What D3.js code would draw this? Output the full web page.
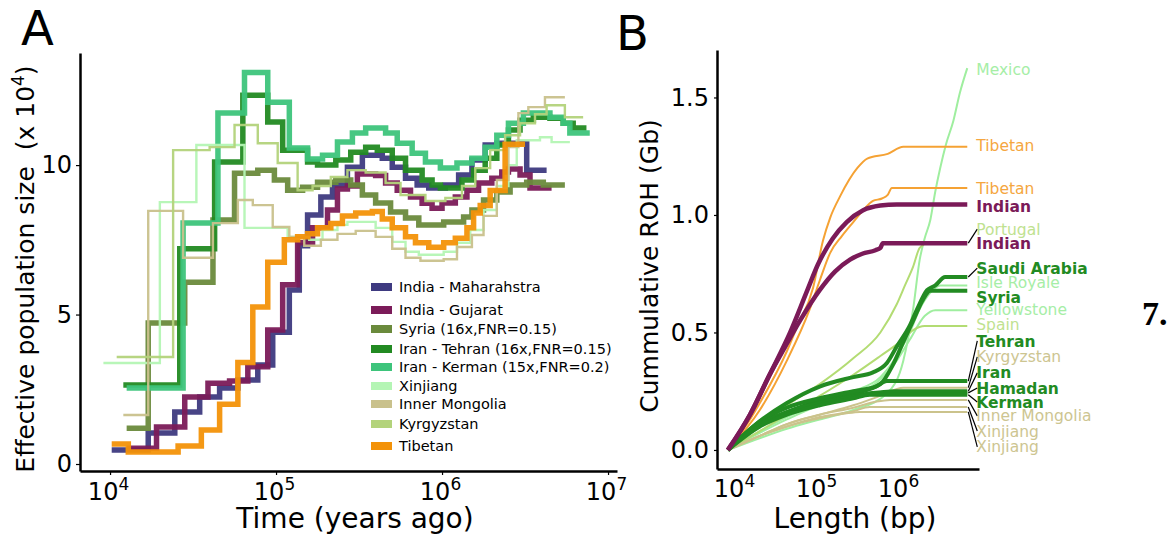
<!DOCTYPE html>
<html>
<head>
<meta charset="utf-8">
<script src="https://cdn.jsdelivr.net/npm/d3@7"></script>
<style>
body { margin: 0; background: #fff; }
svg { font-family: "DejaVu Sans", sans-serif; }
</style>
</head>
<body>
<svg width="1172" height="535"></svg>
<script>
// ---- Panel A: PSMC steps. time = log10(years ago), Ne in units of 10^4 ----
const mahaT = [4.01,4.23,4.39,4.54,4.66,4.77,4.89,4.98,5.08,5.14,5.19,5.27,5.34,5.43,5.52,5.64,5.70,5.78,5.85,5.92,6.02,6.10,6.18,6.26,6.33,6.51,6.63];
const mahaNe = [0.47,1.04,1.74,2.24,2.54,2.81,3.31,4.41,5.82,7.3,8.33,8.93,9.33,9.93,10.33,10.23,9.93,9.56,9.33,9.23,9.33,9.67,10.17,10.67,10.73,9.83];

const gujT = [4.10,4.28,4.45,4.59,4.72,4.83,4.95,5.04,5.13,5.22,5.31,5.37,5.43,5.49,5.60,5.66,5.73,5.81,5.88,5.94,6.00,6.08,6.15,6.22,6.30,6.36,6.40,6.47,6.53,6.66];
const gujNe = [0.53,1.24,2.24,2.7,2.78,3.25,4.48,6.0,7.4,7.9,8.5,9.2,9.3,9.7,9.65,9.4,9.16,8.93,8.72,8.56,8.73,8.93,9.16,9.4,9.56,9.77,9.87,9.67,9.23];

const syriaT = [4.10,4.23,4.45,4.62,4.75,4.89,4.99,5.07,5.16,5.25,5.36,5.45,5.52,5.60,5.69,5.78,5.86,6.01,6.13,6.18,6.25,6.33,6.41,6.51,6.61,6.74];
const syriaNe = [1.2,4.72,6.08,8.16,9.73,9.83,9.5,9.16,9.26,9.43,9.5,9.33,9.0,8.73,8.43,8.23,8.0,8.1,8.26,8.5,8.83,9.1,9.33,9.43,9.33];

const tehranT = [4.08,4.42,4.63,4.80,4.95,5.04,5.19,5.25,5.36,5.45,5.54,5.61,5.70,5.78,5.88,5.94,5.99,6.12,6.19,6.26,6.33,6.40,6.47,6.55,6.65,6.73,6.79,6.87];
const tehranNe = [2.64,7.2,10.1,12.34,11.44,10.5,10.1,10.0,10.17,10.43,10.6,10.5,10.23,9.83,9.5,9.33,9.23,9.5,9.83,10.23,10.67,11.17,11.5,11.6,11.57,11.4,11.24];

const kermanT = [4.10,4.44,4.65,4.81,4.95,5.08,5.19,5.28,5.37,5.46,5.54,5.66,5.73,5.82,5.90,5.99,6.09,6.18,6.26,6.33,6.40,6.49,6.65,6.73,6.77,6.89];
const kermanNe = [2.54,8.06,11.74,13.1,12.1,10.57,10.2,10.33,10.77,11.07,11.24,11.07,10.73,10.4,10.1,9.9,10.07,10.23,10.6,11.0,11.4,11.74,11.6,11.4,11.07];

const xinjT = [3.96,4.30,4.52,4.81,5.07,5.20,5.28,5.37,5.43,5.60,5.70,5.78,5.86,6.01,6.09,6.17,6.25,6.33,6.40,6.45,6.59,6.66,6.77];
const xinjNe = [3.38,8.76,10.67,7.9,7.6,7.5,7.83,8.0,8.1,7.9,7.43,7.1,7.0,7.1,7.4,7.83,8.5,9.3,10.0,10.83,10.93,10.77];

const mongT = [4.08,4.23,4.44,4.62,4.77,4.86,4.98,5.08,5.17,5.27,5.37,5.48,5.60,5.70,5.78,5.87,6.01,6.09,6.18,6.25,6.33,6.40,6.46,6.52,6.62,6.74];
const mongNe = [1.64,8.47,6.9,8.06,8.83,8.66,7.93,7.6,7.3,7.5,7.7,7.8,7.6,7.2,6.9,6.8,6.85,7.26,7.66,8.3,9.5,10.6,11.74,11.94,12.27];

const kyrgT = [4.04,4.38,4.60,4.75,4.89,5.01,5.13,5.22,5.33,5.43,5.54,5.66,5.75,5.90,6.02,6.12,6.20,6.29,6.38,6.47,6.56,6.63,6.74,6.85];
const kyrgNe = [3.58,10.5,10.6,11.34,10.73,10.07,9.16,9.3,9.6,9.83,9.75,9.4,9.0,8.8,8.9,9.3,9.9,10.5,11.0,11.4,11.7,12.0,11.6];

const tibT = [4.01,4.11,4.41,4.55,4.66,4.77,4.86,4.95,5.05,5.13,5.19,5.25,5.33,5.40,5.48,5.58,5.64,5.70,5.78,5.84,5.92,6.01,6.08,6.15,6.19,6.23,6.29,6.38,6.50];
const tibNe = [0.67,0.4,0.6,1.14,2.0,3.4,5.25,6.75,7.5,7.6,7.7,7.9,8.05,8.3,8.4,8.45,8.2,7.9,7.6,7.4,7.25,7.4,7.55,7.9,8.4,8.65,9.15,10.7];

const psmcNames = ["India - Maharahstra", "India - Gujarat", "Syria (16x,FNR=0.15)", "Iran - Tehran (16x,FNR=0.15)",
  "Iran - Kerman (15x,FNR=0.2)", "Xinjiang", "Inner Mongolia", "Kyrgyzstan", "Tibetan"];
const psmcTimes = [mahaT, gujT, syriaT, tehranT, kermanT, xinjT, mongT, kyrgT, tibT];
const psmcNe = [mahaNe, gujNe, syriaNe, tehranNe, kermanNe, xinjNe, mongNe, kyrgNe, tibNe];
const yTicksA = [0, 5, 10];
const xTicksA = [4, 5, 6, 7];

// ---- Panel B: cumulative ROH. [log10(length bp), Gb] ----
const mexico = [[3.90,0],[4.21,0.04],[4.62,0.09],[5.02,0.13],[5.43,0.17],[5.84,0.24],[6.04,0.38],[6.16,0.60],[6.24,0.81],[6.30,0.90],[6.37,0.98],[6.43,1.10],[6.49,1.20],[6.56,1.30],[6.65,1.40],[6.73,1.52],[6.82,1.625]];
const tibetan1 = [[3.90,0],[4.17,0.13],[4.29,0.20],[4.62,0.42],[4.74,0.52],[4.94,0.69],[5.06,0.89],[5.15,0.99],[5.27,1.08],[5.48,1.20],[5.60,1.24],[5.85,1.26],[6.04,1.29],[6.82,1.29]];
const tibetan2 = [[3.90,0],[4.29,0.17],[4.62,0.38],[4.90,0.60],[5.02,0.72],[5.15,0.84],[5.29,0.91],[5.43,0.97],[5.55,1.02],[5.67,1.06],[5.78,1.07],[5.85,1.085],[5.90,1.115],[6.82,1.115]];
const indian1 = [[3.90,0],[4.17,0.15],[4.41,0.32],[4.66,0.50],[4.87,0.68],[5.00,0.79],[5.18,0.90],[5.35,0.97],[5.55,1.02],[5.76,1.04],[5.96,1.045],[6.82,1.045]];
const portugal = [[3.90,0],[4.29,0.10],[4.62,0.19],[5.02,0.28],[5.43,0.39],[5.76,0.50],[5.96,0.62],[6.06,0.70],[6.16,0.78],[6.24,0.86],[6.34,0.88],[6.82,0.88]];
const indian2 = [[3.90,0],[4.17,0.15],[4.41,0.32],[4.60,0.44],[4.78,0.55],[5.02,0.68],[5.21,0.76],[5.39,0.81],[5.54,0.835],[5.70,0.85],[5.76,0.86],[5.79,0.88],[6.82,0.88]];
const saudi = [[3.90,0],[4.21,0.10],[4.62,0.20],[5.02,0.27],[5.43,0.31],[5.67,0.33],[5.84,0.37],[5.96,0.44],[6.12,0.53],[6.21,0.60],[6.33,0.68],[6.43,0.70],[6.55,0.736],[6.82,0.736]];
const isleRoyale = [[3.90,0],[4.62,0.14],[5.02,0.20],[5.43,0.25],[5.76,0.31],[5.96,0.40],[6.12,0.50],[6.24,0.60],[6.37,0.67],[6.49,0.70],[6.82,0.70]];
const syriaRoh = [[3.90,0],[4.21,0.09],[4.62,0.16],[5.02,0.21],[5.43,0.24],[5.76,0.28],[5.91,0.36],[6.04,0.46],[6.16,0.55],[6.28,0.64],[6.37,0.677],[6.82,0.677]];
const yellowstone = [[3.90,0],[4.62,0.13],[5.02,0.19],[5.43,0.23],[5.76,0.30],[5.96,0.38],[6.12,0.47],[6.30,0.57],[6.43,0.595],[6.82,0.595]];
const spain = [[3.90,0],[4.29,0.08],[4.62,0.15],[5.02,0.23],[5.43,0.32],[5.76,0.40],[6.00,0.46],[6.16,0.51],[6.30,0.527],[6.82,0.527]];
const tehranRoh = [[3.90,0],[4.29,0.12],[4.62,0.18],[5.02,0.22],[5.43,0.25],[5.70,0.27],[5.84,0.293],[6.82,0.293]];
const kyrgRoh = [[3.90,0],[4.29,0.06],[4.62,0.11],[5.02,0.15],[5.43,0.19],[5.76,0.23],[6.04,0.265],[6.82,0.265]];
const iranRoh = [[3.90,0],[4.29,0.11],[4.62,0.16],[5.02,0.20],[5.43,0.23],[5.76,0.245],[5.94,0.25],[6.82,0.25]];
const hamadan = [[3.90,0],[4.29,0.11],[4.62,0.16],[5.02,0.20],[5.43,0.225],[5.70,0.243],[6.82,0.243]];
const kermanRoh = [[3.90,0],[4.29,0.10],[4.62,0.15],[5.02,0.19],[5.43,0.22],[5.63,0.235],[6.82,0.235]];
const mongRoh = [[3.90,0],[4.29,0.06],[4.62,0.11],[5.02,0.15],[5.43,0.18],[5.70,0.205],[5.88,0.213],[6.82,0.213]];
const xinj1Roh = [[3.90,0],[4.29,0.06],[4.62,0.10],[5.02,0.14],[5.43,0.165],[5.63,0.183],[6.82,0.183]];
const xinj2Roh = [[3.90,0],[4.29,0.06],[4.62,0.10],[5.02,0.135],[5.33,0.155],[5.51,0.162],[6.82,0.162]];

const rohNames = ["Mexico","Tibetan","Tibetan","Indian","Portugal","Indian","Saudi Arabia","Isle Royale","Syria",
  "Yellowstone","Spain","Tehran","Kyrgyzstan","Iran","Hamadan","Kerman","Inner Mongolia","Xinjiang","Xinjiang"];
const rohCurves = [mexico, tibetan1, tibetan2, indian1, portugal, indian2, saudi, isleRoyale, syriaRoh,
  yellowstone, spain, tehranRoh, kyrgRoh, iranRoh, hamadan, kermanRoh, mongRoh, xinj1Roh, xinj2Roh];
const rohGroup = ["pale","tibetan","tibetan","indian","yg","indian","green","pale","green",
  "pale","yg","green","tan","green","green","green","tan","tan","tan"];
const yTicksB = [0, 0.5, 1.0, 1.5];
const xTicksB = [4, 5, 6];

// ---- layout / style ----
const psmcColor = ["#3e3a80","#7b1b59","#6a8a3c","#228a22","#3dc47b","#b4f5b4","#c9c18c","#b3d37b","#f39208"];
const psmcWidth = [5.5,5.5,5.5,5.5,5.5,2.4,2.4,2.4,5.5];
const legendRowY = [0,23,42,62,80,99,117,137,159];
const groupStyle = {
  pale:    {line: "#9fee9f", text: "#a6eea6", w: 2,   bold: false},
  tibetan: {line: "#f5a234", text: "#f5a640", w: 2,   bold: false},
  indian:  {line: "#7b1a58", text: "#7b1a58", w: 4.5, bold: true},
  yg:      {line: "#b3dc73", text: "#bfe290", w: 2,   bold: false},
  green:   {line: "#228b22", text: "#228b22", w: 4,   bold: true},
  tan:     {line: "#cbc38c", text: "#cdc591", w: 2,   bold: false}
};
// label centres (Gb) after de-overlapping, and whether a leader line is drawn
const labelAt = [1.621,1.294,1.115,1.038,0.940,0.881,0.774,0.715,0.651,0.600,0.536,0.464,0.396,0.328,0.264,0.204,0.145,0.081,0.013];
const leader = [0,0,0,0,1,0,1,0,0,0,0,1,1,1,1,1,1,1,1];

const svg = d3.select("svg");
const pow10 = v => Math.pow(10, v);

function supLabel(sel, exp, size, supSize, dy) {
  sel.text(null);
  sel.append("tspan").attr("font-size", size).text("10");
  sel.append("tspan").attr("font-size", supSize).attr("dy", dy).text(exp);
}

// ================= Panel A =================
const xA = d3.scaleLog().domain([pow10(3.819), pow10(7.054)]).range([80, 617]);
const yA = d3.scaleLinear().domain([-0.234, 13.75]).range([471, 53]);

const gA = svg.append("g");

const stepLine = d3.line()
  .x(d => xA(pow10(d.t)))
  .y(d => yA(d.ne))
  .curve(d3.curveStepAfter);

psmcNames.forEach((name, i) => {
  const T = psmcTimes[i], N = psmcNe[i];
  const pts = T.map((t, j) => ({t: t, ne: N[Math.min(j, N.length - 1)]}));
  gA.append("path")
    .attr("d", stepLine(pts))
    .attr("fill", "none")
    .attr("stroke", psmcColor[i])
    .attr("stroke-width", psmcWidth[i])
    .attr("stroke-opacity", 0.95);
});

const axAy = gA.append("g").attr("transform", "translate(80,0)")
  .call(d3.axisLeft(yA).tickValues(yTicksA).tickSize(4).tickPadding(4).tickSizeOuter(0));
const axAx = gA.append("g").attr("transform", "translate(0,471)")
  .call(d3.axisBottom(xA).tickValues(xTicksA.map(pow10)).tickSize(4).tickPadding(8).tickSizeOuter(0));

[axAy, axAx].forEach(a => {
  a.select(".domain").attr("stroke-width", 2.5);
  a.selectAll(".tick line").attr("stroke-width", 1.2);
  a.attr("font-family", "DejaVu Sans").attr("font-size", 24);
});
axAx.selectAll(".tick text").each(function (d, i) {
  d3.select(this).attr("dy", "0.71em").attr("dx", -2);
  supLabel(d3.select(this), xTicksA[i], 24, 17, -10);
});

gA.append("text")
  .attr("transform", "translate(34,269) rotate(-90)")
  .attr("text-anchor", "middle")
  .attr("font-size", 25)
  .style("white-space", "pre")
  .call(t => {
    t.append("tspan").text("Effective population size  (x 10");
    t.append("tspan").attr("font-size", 17).attr("dy", -10).text("4");
    t.append("tspan").attr("dy", 10).text(")");
  });

gA.append("text")
  .attr("x", 355).attr("y", 528)
  .attr("text-anchor", "middle")
  .attr("font-size", 28)
  .text("Time (years ago)");

gA.append("text").attr("x", 21).attr("y", 45).attr("font-size", 48).text("A");

// legend
const leg = gA.append("g").attr("transform", "translate(371,287)");
psmcNames.forEach((name, i) => {
  const row = leg.append("g").attr("transform", `translate(0,${legendRowY[i]})`);
  row.append("rect").attr("x", 0).attr("y", -4).attr("width", 21).attr("height", 8)
    .attr("fill", psmcColor[i]);
  row.append("text").attr("x", 28).attr("y", 0).attr("dy", "0.36em")
    .attr("font-size", 14.5).text(name);
});

// ================= Panel B =================
const xB = d3.scaleLog().domain([pow10(3.768), pow10(6.963)]).range([717, 979]);
const yB = d3.scaleLinear().domain([-0.081, 1.702]).range([469, 50]);

const gB = svg.append("g");
const rohLine = d3.line()
  .x(d => xB(pow10(d[0])))
  .y(d => yB(d[1]))
  .curve(d3.curveMonotoneX);

const drawOrder = d3.range(rohNames.length)
  .sort((a, b) => groupStyle[rohGroup[a]].w - groupStyle[rohGroup[b]].w);
drawOrder.forEach(i => {
  const st = groupStyle[rohGroup[i]];
  gB.append("path")
    .attr("d", rohLine(rohCurves[i]))
    .attr("fill", "none")
    .attr("stroke", st.line)
    .attr("stroke-width", st.w)
    .attr("stroke-linejoin", "round");
});

rohNames.forEach((name, i) => {
  const st = groupStyle[rohGroup[i]];
  const last = rohCurves[i][rohCurves[i].length - 1];
  const ex = xB(pow10(last[0])), ey = yB(last[1]);
  const lx = ex + 9, ly = yB(labelAt[i]);
  if (leader[i]) {
    gB.append("line")
      .attr("x1", ex + 1).attr("y1", ey)
      .attr("x2", lx + 1).attr("y2", ly)
      .attr("stroke", "#000").attr("stroke-width", 1.2);
  }
  gB.append("text")
    .attr("x", lx).attr("y", ly).attr("dy", "0.36em")
    .attr("font-size", 15.5)
    .attr("font-weight", st.bold ? "bold" : "normal")
    .attr("fill", st.text)
    .text(name);
});

const axBy = gB.append("g").attr("transform", "translate(717,0)")
  .call(d3.axisLeft(yB).tickValues(yTicksB).tickFormat(d3.format(".1f")).tickSize(3).tickPadding(5).tickSizeOuter(0));
const axBx = gB.append("g").attr("transform", "translate(0,469)")
  .call(d3.axisBottom(xB).tickValues(xTicksB.map(pow10)).tickSize(0).tickPadding(11).tickSizeOuter(0));
[axBy, axBx].forEach(a => {
  a.select(".domain").attr("stroke-width", 2.5);
  a.selectAll(".tick line").attr("stroke-width", 1.2);
  a.attr("font-family", "DejaVu Sans").attr("font-size", 24);
});
axBx.selectAll(".tick text").each(function (d, i) {
  d3.select(this).attr("dy", "0.71em").attr("dx", -2);
  supLabel(d3.select(this), xTicksB[i], 24, 17, -10);
});

gB.append("text")
  .attr("transform", "translate(658,266) rotate(-90)")
  .attr("text-anchor", "middle")
  .attr("font-size", 25)
  .text("Cummulative ROH (Gb)");

gB.append("text")
  .attr("x", 855).attr("y", 528)
  .attr("text-anchor", "middle")
  .attr("font-size", 28)
  .text("Length (bp)");

gB.append("text").attr("x", 616).attr("y", 50).attr("font-size", 48).text("B");

svg.append("text")
  .attr("x", 1142).attr("y", 325)
  .attr("font-family", "Liberation Serif")
  .attr("font-weight", "bold")
  .attr("font-size", 34)
  .text("7.");
</script>
</body>
</html>
